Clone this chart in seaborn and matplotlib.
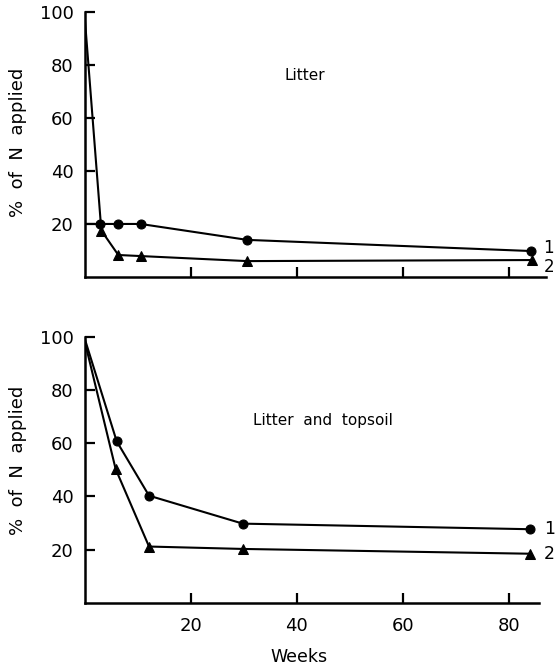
import pandas as pd
import seaborn as sns
import matplotlib.pyplot as plt

# Litter (panneau du haut)
weeks_litter_1 = [0, 2.9, 6.3, 10.5, 30.6, 84.1]
pct_litter_1 = [20, 20, 20, 20, 14, 9.8]
weeks_litter_2 = [0, 3.1, 6.3, 10.5, 30.6, 84.3]
pct_litter_2 = [97, 17.5, 8.3, 7.9, 6, 6.4]

# Litter and topsoil (panneau du bas)
weeks_soil_1 = [0, 6, 12.1, 29.8, 84.1]
pct_soil_1 = [99, 60.7, 40.3, 29.8, 27.7]
weeks_soil_2 = [0, 5.8, 12.1, 29.8, 84.1]
pct_soil_2 = [98, 50.3, 21.2, 20.3, 18.5]

x_ticks = [20, 40, 60, 80]
y_ticks = [20, 40, 60, 80, 100]

sns.set_style("ticks")
plt.rcParams['font.family'] = ['DejaVu Sans']
plt.rcParams['axes.linewidth'] = 1.8
plt.rcParams['axes.edgecolor'] = 'black'
plt.rcParams['text.color'] = 'black'
plt.rcParams['axes.labelcolor'] = 'black'
plt.rcParams['xtick.color'] = 'black'
plt.rcParams['ytick.color'] = 'black'

fig = plt.figure(figsize=(5.55, 6.68), dpi=100)
ax_top = fig.add_axes([0.153, 0.5853, 0.831, 0.3972])
ax_bot = fig.add_axes([0.153, 0.0973, 0.819, 0.3987])


def trace(ax, w1, p1, w2, p2):
    df = pd.concat([
        pd.DataFrame({'Weeks': w1, 'pct': p1, 'serie': '1'}),
        pd.DataFrame({'Weeks': w2, 'pct': p2, 'serie': '2'}),
    ])
    sns.lineplot(data=df, x='Weeks', y='pct', hue='serie', style='serie',
                 markers={'1': 'o', '2': '^'}, dashes=False,
                 palette={'1': 'black', '2': 'black'},
                 markersize=6.5, linewidth=1.5, markeredgecolor='black',
                 legend=False, ax=ax, sort=False)
    # pas de marqueur au point de départ (x=0)
    for line in ax.get_lines():
        line.set_markevery(list(range(1, len(line.get_xdata()))))
    ax.tick_params(direction='in', length=7, width=1.6, labelsize=13, pad=8)
    ax.set_yticks(y_ticks)
    ax.set_xticks(x_ticks)
    sns.despine(ax=ax)
    ax.set_ylabel('%  of  N  applied', fontsize=13)
    ax.set_xlabel('')


trace(ax_top, weeks_litter_1, pct_litter_1, weeks_litter_2, pct_litter_2)
ax_top.set_xlim(0, 87)
ax_top.set_ylim(0, 100)
ax_top.set_xticklabels([])
ax_top.yaxis.set_label_coords(-0.125, 0.506)
ax_top.text(41.5, 76, 'Litter', fontsize=11, ha='center', va='center')
ax_top.text(86.5, pct_litter_1[-1] + 1, '1', fontsize=12, va='center', clip_on=False)
ax_top.text(86.5, pct_litter_2[-1] - 2.5, '2', fontsize=12, va='center', clip_on=False)

trace(ax_bot, weeks_soil_1, pct_soil_1, weeks_soil_2, pct_soil_2)
ax_bot.set_xlim(0, 85.8)
ax_bot.set_ylim(0, 100)
ax_bot.tick_params(axis='x', pad=10)
ax_bot.yaxis.set_label_coords(-0.127, 0.537)
ax_bot.set_xlabel('Weeks', fontsize=12.5)
ax_bot.xaxis.set_label_coords(0.47, -0.17)
ax_bot.text(45, 68.4, 'Litter  and  topsoil', fontsize=11, ha='center', va='center')
ax_bot.text(86.6, pct_soil_1[-1], '1', fontsize=12.5, va='center', clip_on=False)
ax_bot.text(86.6, pct_soil_2[-1], '2', fontsize=12.5, va='center', clip_on=False)

plt.savefig('out.png', dpi=100)
